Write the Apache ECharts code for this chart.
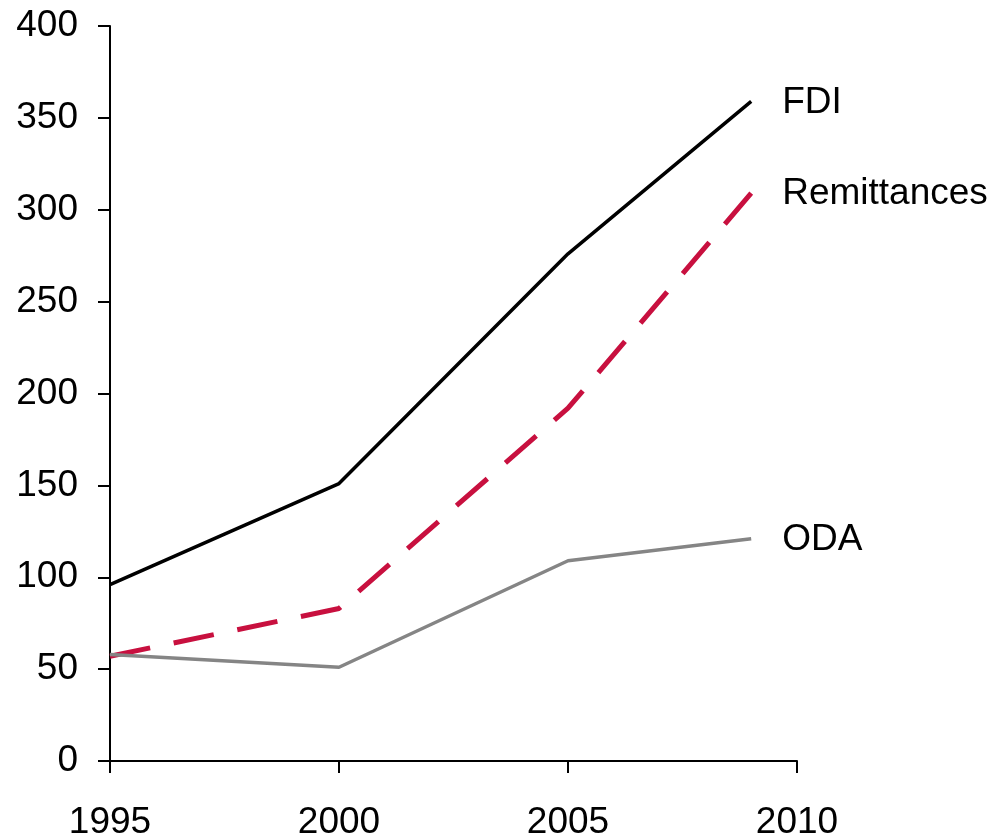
<!DOCTYPE html>
<html>
<head>
<meta charset="utf-8">
<script src="https://cdn.jsdelivr.net/npm/echarts@6/dist/echarts.min.js"></script>
<style>
  html, body { margin: 0; padding: 0; background: #fff; }
  #chart { width: 994px; height: 833px; }
</style>
</head>
<body>
<div id="chart"></div>
<script>
// data
var years = [1995, 2000, 2005, 2009]
var fdi = [96, 151, 276, 359]
var remittances = [57, 83, 192, 309]
var oda = [58, 51, 109, 121]

var font = '"Liberation Sans", Arial, sans-serif'

function pairs(vals) {
  return years.map(function (y, i) { return [y, vals[i]] })
}

function series(name, vals, color, width, dash) {
  return {
    name: name,
    type: 'line',
    data: pairs(vals),
    symbol: 'none',
    silent: true,
    lineStyle: { color: color, width: width, type: dash || 'solid', cap: 'butt' },
    endLabel: {
      show: true,
      formatter: '{a}',
      distance: 31,
      color: '#000',
      fontSize: 37,
      fontFamily: font,
      offset: [0, 1],
    },
  }
}

var chart = echarts.init(document.getElementById('chart'))
chart.setOption({
  animation: false,
  grid: { left: 110, right: 197, top: 26, bottom: 72, containLabel: false, outerBoundsMode: 'none' },
  xAxis: {
    type: 'value',
    min: 1995,
    max: 2010,
    interval: 5,
    axisLine: { lineStyle: { color: '#000', width: 2 } },
    axisTick: { show: true, inside: false, length: 12, lineStyle: { color: '#000', width: 2 } },
    axisLabel: {
      color: '#000', fontSize: 37, fontFamily: font, margin: 43,
      formatter: function (v) { return String(v) },
    },
    splitLine: { show: false },
  },
  yAxis: {
    type: 'value',
    min: 0,
    max: 400,
    interval: 50,
    axisLine: { show: true, lineStyle: { color: '#000', width: 2 } },
    axisTick: { show: true, inside: false, length: 12, lineStyle: { color: '#000', width: 2 } },
    axisLabel: { color: '#000', fontSize: 37, fontFamily: font, margin: 32, padding: [4, 0, 0, 0] },
    splitLine: { show: false },
  },
  series: [
    series('FDI', fdi, '#000000', 3.5),
    series('Remittances', remittances, '#c8103f', 5, [41, 24]),
    series('ODA', oda, '#858585', 3.5),
  ],
})
</script>
</body>
</html>
